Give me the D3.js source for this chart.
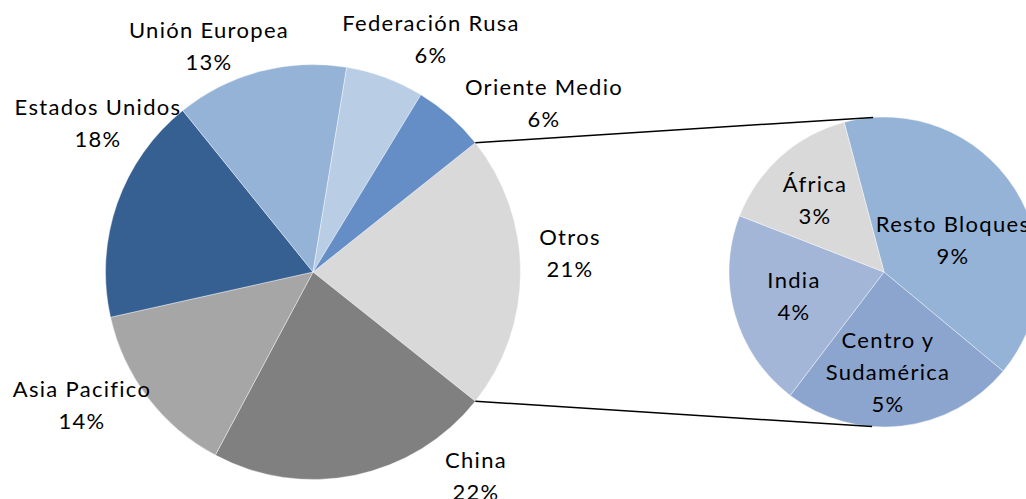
<!DOCTYPE html>
<html>
<head>
<meta charset="utf-8">
<script src="https://cdn.jsdelivr.net/npm/d3@7"></script>
<style>
  body { margin: 0; background: #fff; }
  text { font-family: Lato, "Noto Sans", sans-serif; font-size: 22px; letter-spacing: 1.3px; fill: #000; }
</style>
</head>
<body>
<svg width="1026" height="499"></svg>
<script>
// main pie, starting with the "Otros" slice and going clockwise
var mainNames = ["Otros", "China", "Asia Pacifico", "Estados Unidos", "Unión Europea", "Federación Rusa", "Oriente Medio"];
var mainValues = [21.4, 22.1, 13.7, 17.7, 13.4, 6.1, 5.6];
var mainColors = ["#d9d9d9", "#808080", "#a6a6a6", "#376092", "#95b3d7", "#b9cde5", "#668ec6"];

// breakdown of "Otros"
var subNames = ["Resto Bloques", "Centro y Sudamérica", "India", "África"];
var subValues = [8.6, 5.2, 4.4, 3.2];
var subColors = ["#95b3d7", "#8ba5cf", "#a3b6d8", "#d9d9d9"];

var svg = d3.select("svg"),
    width = +svg.attr("width"),
    height = +svg.attr("height");

svg.append("rect").attr("width", width).attr("height", height).attr("fill", "#fff");

var total = d3.sum(mainValues);
var pct = v => Math.round(v / total * 100) + "%";

var c1 = { x: 313, y: 272, r: 207.5 },
    c2 = { x: 884, y: 272, r: 155 };

// label offsets from pie centre (first line baseline) - excel "best fit" placement
var mainLabelPos = {
    "Otros": [257, -27],
    "China": [163, 196],
    "Asia Pacifico": [-231, 125],
    "Estados Unidos": [-215, -157],
    "Unión Europea": [-104, -234],
    "Federación Rusa": [118, -241],
    "Oriente Medio": [231, -177]
};
var subLabelPos = {
    "Resto Bloques": [69, -40],
    "Centro y Sudamérica": [4, 76],
    "India": [-90, 16],
    "África": [-69, -80]
};
var wrap = { "Centro y Sudamérica": ["Centro y", "Sudamérica"] };
var lineH = 32;

// Otros centred on 3 o'clock
var otrosAngle = mainValues[0] / total * 2 * Math.PI;
var start1 = Math.PI / 2 - otrosAngle / 2;

var pie1 = d3.pie().sort(null).value(d => d)
    .startAngle(start1).endAngle(start1 + 2 * Math.PI);
var arc1 = d3.arc().innerRadius(0).outerRadius(c1.r);

var start2 = -14.9 * Math.PI / 180;
var pie2 = d3.pie().sort(null).value(d => d)
    .startAngle(start2).endAngle(start2 + 2 * Math.PI);
var arc2 = d3.arc().innerRadius(0).outerRadius(c2.r);

var g1 = svg.append("g").attr("transform", `translate(${c1.x},${c1.y})`);
g1.selectAll("path")
    .data(pie1(mainValues))
    .join("path")
    .attr("d", arc1)
    .attr("fill", (d, i) => mainColors[i])
    .attr("stroke", "#fff")
    .attr("stroke-opacity", 0.5)
    .attr("stroke-width", 0.8);

var g2 = svg.append("g").attr("transform", `translate(${c2.x},${c2.y})`);
g2.selectAll("path")
    .data(pie2(subValues))
    .join("path")
    .attr("d", arc2)
    .attr("fill", (d, i) => subColors[i])
    .attr("stroke", "#fff")
    .attr("stroke-opacity", 0.5)
    .attr("stroke-width", 0.8);

// connector lines: ends of the Otros slice -> top / bottom of the small pie
function onCircle(c, a) {
    return [c.x + c.r * Math.sin(a), c.y - c.r * Math.cos(a)];
}
var otros = pie1(mainValues)[0];
var links = [
    [onCircle(c1, otros.startAngle), onCircle(c2, -4 * Math.PI / 180)],
    [onCircle(c1, otros.endAngle), onCircle(c2, 184.4 * Math.PI / 180)]
];
svg.append("g")
    .selectAll("line")
    .data(links)
    .join("line")
    .attr("x1", d => d[0][0]).attr("y1", d => d[0][1])
    .attr("x2", d => d[1][0]).attr("y2", d => d[1][1])
    .attr("stroke", "#000")
    .attr("stroke-width", 1.5);

function drawLabels(names, values, c, pos) {
    var lab = svg.append("g").selectAll("text")
        .data(names)
        .join("text")
        .attr("text-anchor", "middle")
        .attr("x", d => c.x + pos[d][0])
        .attr("y", d => c.y + pos[d][1]);
    lab.each(function(d, i) {
        var lines = (wrap[d] || [d]).concat([pct(values[i])]);
        d3.select(this).selectAll("tspan")
            .data(lines)
            .join("tspan")
            .attr("x", c.x + pos[d][0])
            .attr("dy", (t, j) => j ? lineH : 0)
            .text(t => t);
    });
}
drawLabels(mainNames, mainValues, c1, mainLabelPos);
drawLabels(subNames, subValues, c2, subLabelPos);
</script>
</body>
</html>
